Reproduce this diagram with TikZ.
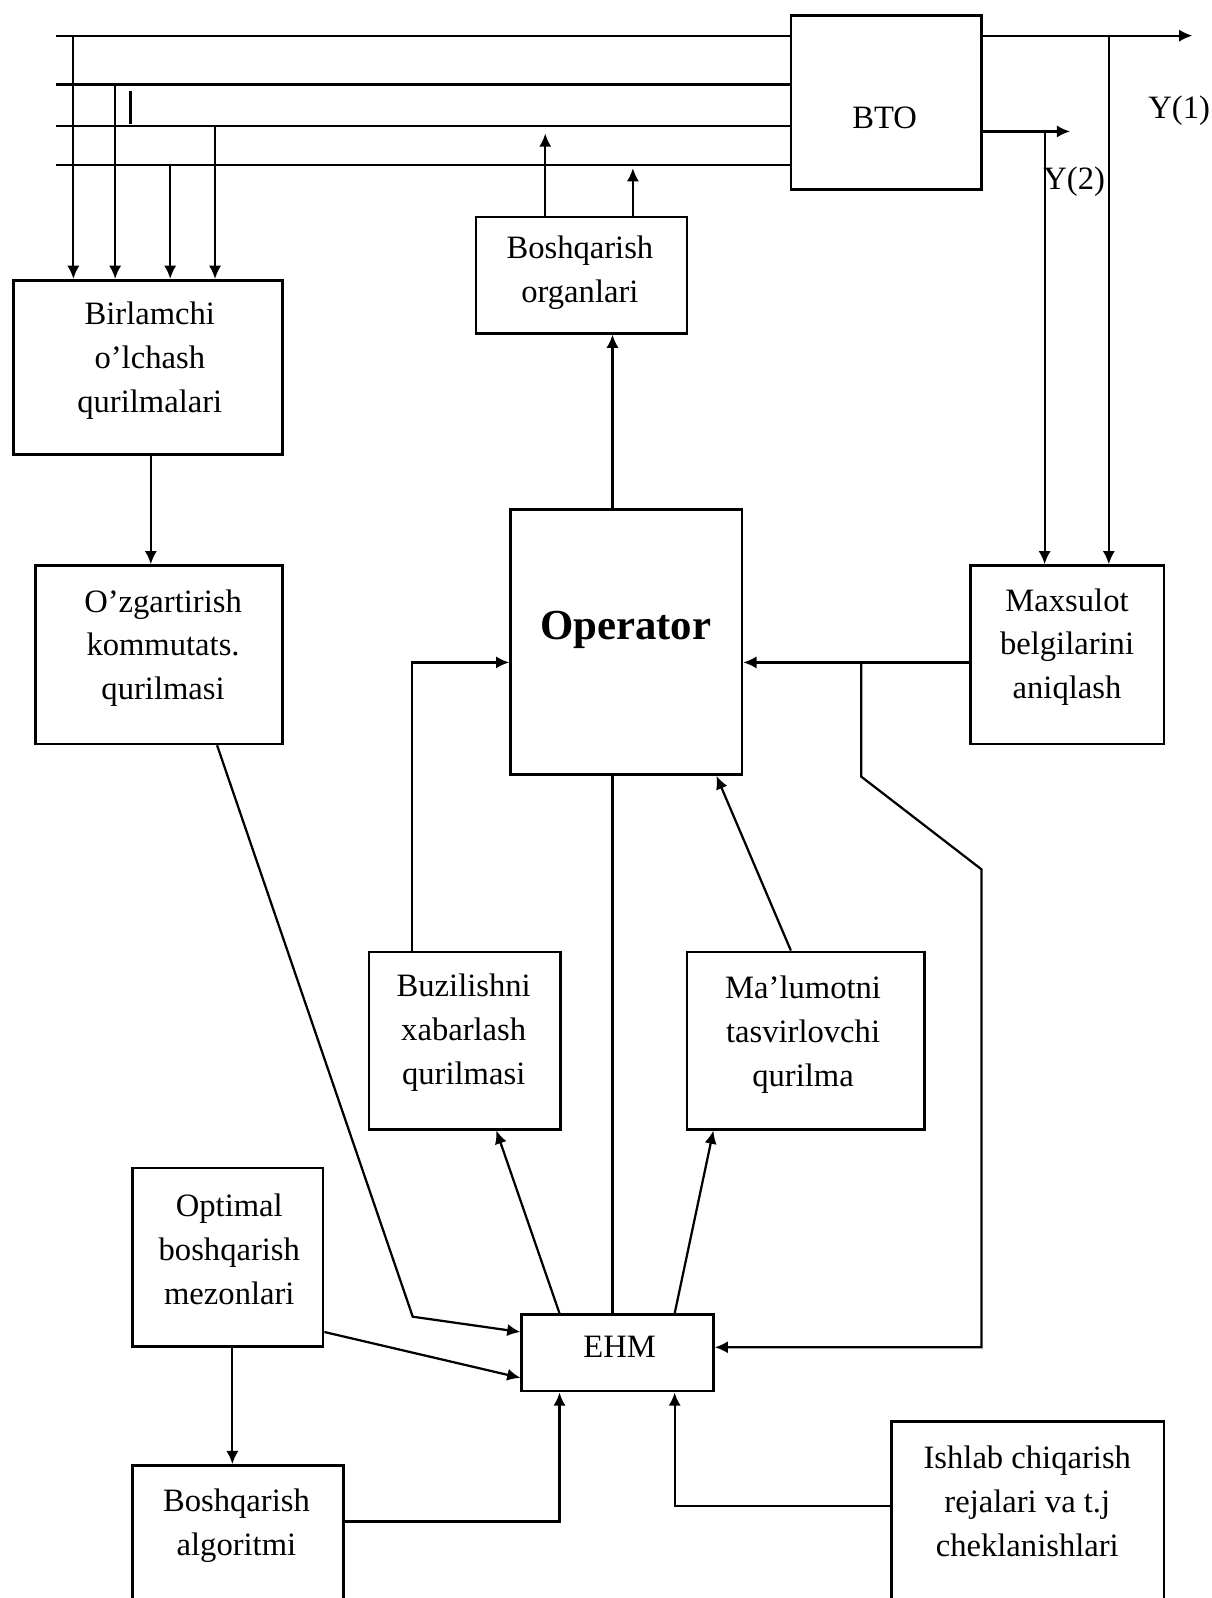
\documentclass[tikz,border=0pt]{standalone}
\usepackage{fontspec}
\setmainfont{Liberation Serif}
\usetikzlibrary{arrows.meta}
\definecolor{pcFFFFFF}{HTML}{FFFFFF}
\definecolor{pc000000}{HTML}{000000}
\tikzset{
  blk/.style={draw=pc000000, line width=2.600bp, inner sep=0, rectangle},
  txt/.style={inner sep=0, align=center, text=pc000000, font=\fontsize{32bp}{43bp}\selectfont},
  ln/.style={draw=pc000000, line width=2.200bp},
  arr/.style={ln, -{Latex[length=13bp,width=12bp]}}
}
\begin{document}
\begin{tikzpicture}
\path[use as bounding box] (0bp,0bp) rectangle (1189.000bp,1568.000bp);
\clip (0bp,0bp) rectangle (1189.000bp,1568.000bp);
\path[fill=pcFFFFFF] (0bp,0bp) rectangle (1189.000bp,1568.000bp);
% boxes
\node[blk, minimum width=187.000bp, minimum height=171.000bp] (bto) at (869.500bp,1467.500bp) {};
\node[blk, minimum width=264.000bp, minimum height=171.000bp] (birl) at (145.000bp,1207.500bp) {};
\node[blk, minimum width=207.000bp, minimum height=114.000bp] (bosh) at (570.500bp,1298.000bp) {};
\node[blk, minimum width=227.000bp, minimum height=260.000bp] (oper) at (614.500bp,938.000bp) {};
\node[blk, minimum width=242.000bp, minimum height=175.000bp] (ozg) at (156.000bp,925.500bp) {};
\node[blk, minimum width=190.000bp, minimum height=175.000bp] (maxs) at (1047.000bp,925.500bp) {};
\node[blk, minimum width=188.000bp, minimum height=174.000bp] (buz) at (456.000bp,547.000bp) {};
\node[blk, minimum width=233.000bp, minimum height=174.000bp] (malu) at (790.500bp,547.000bp) {};
\node[blk, minimum width=187.000bp, minimum height=175.000bp] (opt) at (223.500bp,334.500bp) {};
\node[blk, minimum width=188.000bp, minimum height=75.000bp] (ehm) at (606.000bp,240.500bp) {};
\node[blk, minimum width=207.000bp, minimum height=202.000bp] (algo) at (233.500bp,29.000bp) {};
\node[blk, minimum width=267.000bp, minimum height=245.000bp] (ishl) at (1008.500bp,50.500bp) {};
% texts
\node[txt] (bto-t) at (868.000bp,1452.000bp) {BTO};
\node[txt] (birl-t) at (147.000bp,1214.000bp) {Birlamchi\\o’lchash\\qurilmalari};
\node[txt] (bosh-t) at (569.000bp,1300.000bp) {Boshqarish\\organlari};
\node[txt, font=\fontsize{42bp}{50bp}\selectfont\bfseries] (oper-t) at (614.000bp,950.000bp) {Operator};
\node[txt] (ozg-t) at (160.000bp,932.000bp) {O’zgartirish\\kommutats.\\qurilmasi};
\node[txt] (maxs-t) at (1047.000bp,933.000bp) {Maxsulot\\belgilarini\\aniqlash};
\node[txt] (buz-t) at (455.000bp,555.000bp) {Buzilishni\\xabarlash\\qurilmasi};
\node[txt] (malu-t) at (788.000bp,553.000bp) {Ma’lumotni\\tasvirlovchi\\qurilma};
\node[txt] (opt-t) at (225.000bp,342.000bp) {Optimal\\boshqarish\\mezonlari};
\node[txt] (ehm-t) at (608.000bp,246.000bp) {EHM};
\node[txt] (algo-t) at (232.000bp,71.000bp) {Boshqarish\\algoritmi};
\node[txt] (ishl-t) at (1008.000bp,95.000bp) {Ishlab chiqarish\\rejalari va t.j\\cheklanishlari};
\node[txt] (y1-t) at (1157.000bp,1459.000bp) {Y(1)};
\node[txt] (y2-t) at (1054.000bp,1390.000bp) {Y(2)};
% input lines into BTO
\coordinate (in1) at (55.000bp,1533.000bp);
\coordinate (in2) at (55.000bp,1485.000bp);
\coordinate (in3) at (55.000bp,1444.000bp);
\coordinate (in4) at (55.000bp,1406.000bp);
\draw[ln] (in1) -- (in1 -| bto.west);
\draw[ln] (in2) -- (in2 -| bto.west);
\draw[ln] (in3) -- (in3 -| bto.west);
\draw[ln] (in4) -- (in4 -| bto.west);
\draw[draw=pc000000, line width=3.500bp] (128.000bp,1479.000bp) -- (128.000bp,1446.000bp);
\draw[arr] (72.000bp,0bp |- in1) -- (72.000bp,0bp |- birl.north);
\draw[arr] (113.000bp,0bp |- in2) -- (113.000bp,0bp |- birl.north);
\draw[arr] (167.000bp,0bp |- in4) -- (167.000bp,0bp |- birl.north);
\draw[arr] (211.000bp,0bp |- in3) -- (211.000bp,0bp |- birl.north);
% BTO outputs
\coordinate (y1) at (1170.000bp,1533.000bp);
\coordinate (y2) at (1050.000bp,1439.000bp);
\draw[arr] (bto.east |- y1) -- (y1);
\draw[arr] (bto.east |- y2) -- (y2);
\draw[arr] (1088.000bp,0bp |- y1) -- (1088.000bp,0bp |- maxs.north);
\draw[arr] (1025.000bp,0bp |- y2) -- (1025.000bp,0bp |- maxs.north);
% control organs
\draw[arr] (535.000bp,0bp |- bosh.north) -- (535.000bp,1437.000bp);
\draw[arr] (621.000bp,0bp |- bosh.north) -- (621.000bp,1403.000bp);
\draw[arr] (601.000bp,0bp |- oper.north) -- (601.000bp,0bp |- bosh.south);
\draw[arr] (148.000bp,0bp |- birl.south) -- (148.000bp,0bp |- ozg.north);
% operator links
\draw[arr] (maxs.west |- 0bp,918.000bp) -- (oper.east |- 0bp,918.000bp);
\draw[arr] (845.000bp,918.000bp) -- (845.000bp,806.000bp) -- (963.000bp,715.000bp) -- (963.000bp,246.000bp) -- (ehm.east |- 0bp,246.000bp);
\draw[arr] (404.000bp,0bp |- buz.north) -- (404.000bp,918.000bp) -- (oper.west |- 0bp,918.000bp);
\draw[arr] (776.000bp,0bp |- malu.north) -- (703.000bp,0bp |- oper.south);
\draw[ln] (601.000bp,0bp |- oper.south) -- (601.000bp,0bp |- ehm.north);
% EHM links
\draw[arr] (549.000bp,0bp |- ehm.north) -- (487.000bp,0bp |- buz.south);
\draw[arr] (662.000bp,0bp |- ehm.north) -- (700.000bp,0bp |- malu.south);
\draw[arr] (213.000bp,0bp |- ozg.south) -- (405.000bp,276.000bp) -- (ehm.west |- 0bp,261.000bp);
\draw[arr] (opt.east |- 0bp,261.000bp) -- (ehm.west |- 0bp,216.000bp);
\draw[arr] (228.000bp,0bp |- opt.south) -- (228.000bp,0bp |- algo.north);
\draw[arr] (algo.east |- 0bp,75.000bp) -- (549.000bp,75.000bp) -- (549.000bp,0bp |- ehm.south);
\draw[arr] (ishl.west |- 0bp,90.000bp) -- (662.000bp,90.000bp) -- (662.000bp,0bp |- ehm.south);
\end{tikzpicture}
\end{document}
